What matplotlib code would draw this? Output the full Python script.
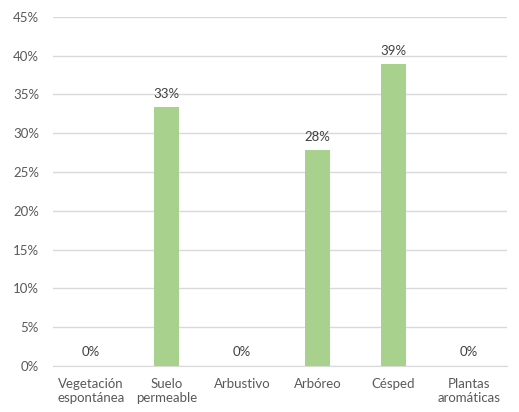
import numpy as np
import matplotlib
matplotlib.use("Agg")
import matplotlib.pyplot as plt
from matplotlib.ticker import PercentFormatter

# Data
categories = ['Vegetación\nespontánea', 'Suelo\npermeable', 'Arbustivo',
              'Arbóreo', 'Césped', 'Plantas\naromáticas']
values = [0.0, 33.33, 0.0, 27.78, 38.89, 0.0]
labels = ['0%', '33%', '0%', '28%', '39%', '0%']
yticks = [0, 5, 10, 15, 20, 25, 30, 35, 40, 45]

plt.rcParams['font.family'] = ['Lato', 'DejaVu Sans']
text_color = '#595959'
grid_color = '#d9d9d9'
bar_color = '#a9d18e'

fig = plt.figure(figsize=(5.19, 4.12), dpi=100)
ax = fig.add_axes([0.102, 0.112, 0.875, 0.847])

x = np.arange(len(categories))
ax.bar(x, values, width=0.33, color=bar_color, zorder=3)

for xi, v, lab in zip(x, values, labels):
    ax.text(xi, v + 1.0, lab, ha='center', va='bottom', fontsize=9.5, color='#404040')

ax.set_xlim(-0.5, len(categories) - 0.5)
ax.set_ylim(0, 45)
ax.set_yticks(yticks)
ax.yaxis.set_major_formatter(PercentFormatter(decimals=0))
ax.set_xticks(x)
ax.set_xticklabels(categories, fontsize=9.5, color=text_color, linespacing=1.15)
ax.tick_params(axis='y', labelsize=9.5, colors=text_color, length=0, pad=10)
ax.tick_params(axis='x', length=0, pad=9)

ax.grid(axis='y', color=grid_color, linewidth=1, zorder=0)
for side in ['top', 'right', 'left']:
    ax.spines[side].set_visible(False)
ax.spines['bottom'].set_color(grid_color)

fig.savefig('out.png', dpi=100)
